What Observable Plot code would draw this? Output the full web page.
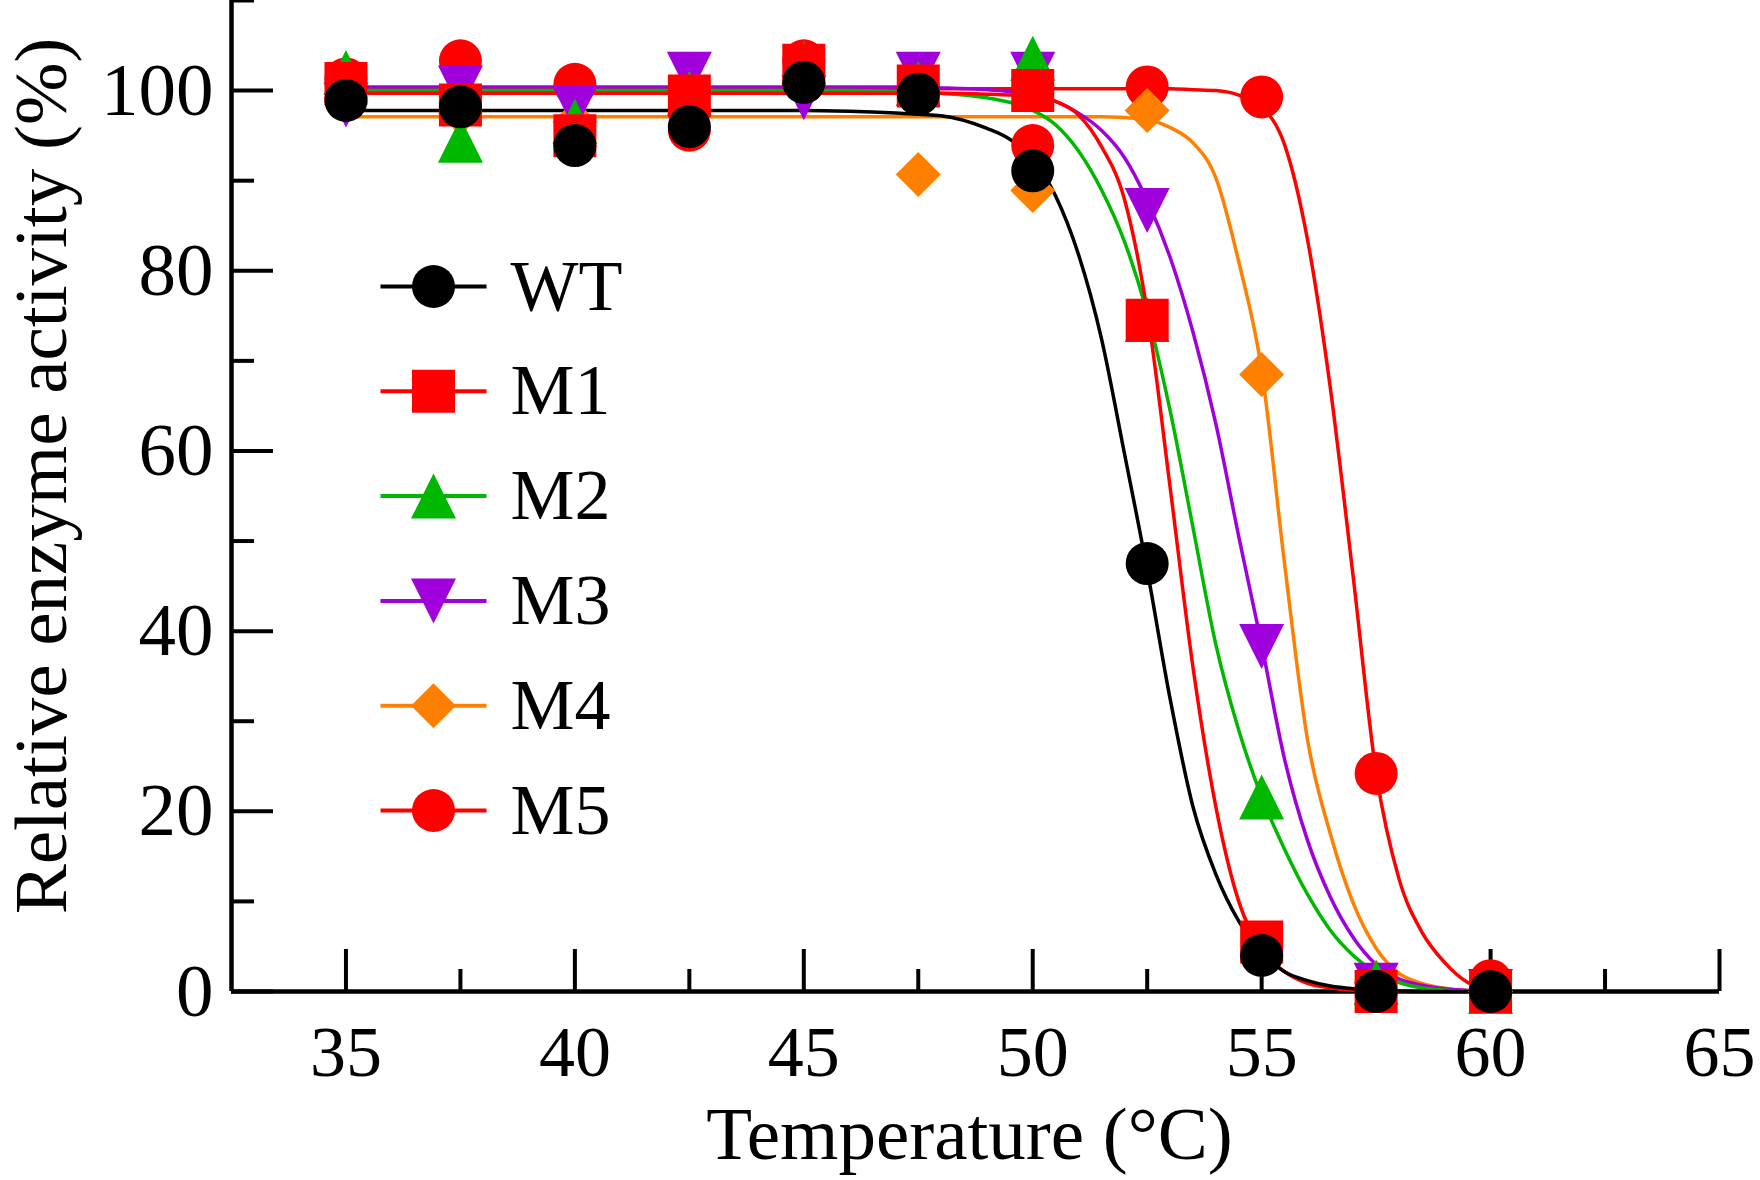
<!DOCTYPE html>
<html>
<head>
<meta charset="utf-8">
<script src="https://cdn.jsdelivr.net/npm/d3@7"></script>
<script src="https://cdn.jsdelivr.net/npm/@observablehq/plot@0.6"></script>
<style>
html, body { margin: 0; padding: 0; background: #ffffff; }
#chart { width: 1760px; height: 1180px; }
</style>
</head>
<body>
<div id="chart"></div>
<script>
// ---- Data ----
const temps = [35, 37.5, 40, 42.5, 45, 47.5, 50, 52.5, 55, 57.5, 60];

const wtValues = [98.9, 98.2, 93.9, 96.0, 100.9, 99.6, 91.1, 47.5, 4.0, 0, 0];
const m1Values = [100.8, 98.4, 95.0, 99.4, 102.8, 100.5, 100.0, 74.5, 5.5, 0, 0];
const m2Values = [102.0, 94.5, 96.6, 99.7, 103.0, 100.8, 103.6, 74.6, 21.6, 1.0, 0];
const m3Values = [98.4, 100.3, 98.0, 101.8, 99.2, 101.8, 101.8, 86.7, 38.3, 0.7, 0];
const m4Values = [99.2, 97.5, 96.5, 97.2, 100.8, 90.7, 88.9, 97.8, 68.5, 1.0, 0];
const m5Values = [101.3, 103.3, 100.7, 95.6, 103.3, 100.3, 93.9, 100.4, 99.3, 24.2, 1.2];

// fitted curves at these temperatures
const fitT = [35, 40, 45, 46, 47, 48, 49, 49.5, 50, 50.5, 51, 51.5, 52, 52.5, 53, 53.5, 54, 54.5, 55, 55.5, 56, 56.5, 57, 57.5, 58, 58.5, 59, 59.5, 60];
const wtFit = [97.8, 97.8, 97.8, 97.7, 97.5, 97.2, 95.8, 94.6, 92.4, 88.3, 81.8, 72.5, 59.8, 46.8, 32.5, 20.5, 13.0, 7.8, 4.3, 2.2, 1.2, 0.6, 0.3, 0.15, 0.05, 0, 0, 0, 0];
const m1Fit = [99.7, 99.7, 99.7, 99.7, 99.7, 99.7, 99.6, 99.5, 99.3, 98.8, 97.3, 93.8, 88.0, 75.5, 56.0, 36.0, 20.5, 10.0, 4.8, 2.2, 0.9, 0.4, 0.15, 0.05, 0, 0, 0, 0, 0];
const m2Fit = [100, 100, 100, 100, 99.9, 99.7, 99.2, 98.7, 97.8, 96.2, 93.3, 89.0, 83.3, 75.3, 64.5, 51.5, 38.5, 29.0, 21.6, 15.8, 10.8, 6.8, 4.0, 2.1, 1.0, 0.4, 0.15, 0.05, 0];
const m3Fit = [100.4, 100.4, 100.4, 100.4, 100.4, 100.3, 100.1, 99.9, 99.5, 98.8, 97.5, 95.6, 92.6, 87.8, 81.5, 73.2, 63.0, 50.5, 38.5, 25.8, 16.8, 10.5, 6.0, 3.0, 1.4, 0.7, 0.3, 0.1, 0];
const m4Fit = [97.1, 97.1, 97.1, 97.1, 97.1, 97.1, 97.1, 97.1, 97.1, 97.1, 97.1, 97.1, 97.0, 96.8, 95.9, 94.2, 90.3, 81.0, 69.0, 47.5, 28.0, 17.5, 9.8, 4.8, 2.0, 0.9, 0.35, 0.1, 0];
const m5Fit = [100.2, 100.2, 100.2, 100.2, 100.2, 100.2, 100.2, 100.2, 100.2, 100.2, 100.2, 100.2, 100.2, 100.2, 100.2, 100.1, 100.0, 99.5, 98.2, 94.0, 83.5, 67.0, 46.0, 24.3, 12.5, 6.6, 3.2, 1.0, 0.2];

const seriesNames = ["WT", "M1", "M2", "M3", "M4", "M5"];
const seriesColors = ["#000000", "#ff0000", "#00b800", "#a000dc", "#ff8000", "#ff0000"];

const xMajorTicks = [35, 40, 45, 50, 55, 60, 65];
const xMinorTicks = [37.5, 42.5, 47.5, 52.5, 57.5, 62.5];
const yMajorTicks = [0, 20, 40, 60, 80, 100];
const yMinorTicks = [10, 30, 50, 70, 90, 110];

const xTitle = "Temperature (°C)";
const yTitle = "Relative enzyme activity (%)";

// ---- Symbols ----
const symCircle = {draw(c) { c.moveTo(21.5, 0); c.arc(0, 0, 21.5, 0, 2 * Math.PI); c.closePath(); }};
const symSquare = {draw(c) { c.moveTo(-21.5, -21.5); c.lineTo(21.5, -21.5); c.lineTo(21.5, 21.5); c.lineTo(-21.5, 21.5); c.closePath(); }};
const symTriUp = {draw(c) { c.moveTo(0, -22.5); c.lineTo(22.5, 22.5); c.lineTo(-22.5, 22.5); c.closePath(); }};
const symTriDown = {draw(c) { c.moveTo(0, 22.5); c.lineTo(22.5, -22.5); c.lineTo(-22.5, -22.5); c.closePath(); }};
const symDiamond = {draw(c) { c.moveTo(0, -22.5); c.lineTo(22.5, 0); c.lineTo(0, 22.5); c.lineTo(-22.5, 0); c.closePath(); }};
const symHLine = {draw(c) { c.moveTo(-53, 0); c.lineTo(53, 0); }};
const seriesSymbols = [symCircle, symSquare, symTriUp, symTriDown, symDiamond, symCircle];

const allValues = [wtValues, m1Values, m2Values, m3Values, m4Values, m5Values];
const allFits = [wtFit, m1Fit, m2Fit, m3Fit, m4Fit, m5Fit];

const series = seriesNames.map((name, i) => ({
  name,
  color: seriesColors[i],
  symbol: seriesSymbols[i],
  pts: temps.map((t, j) => ({t, v: allValues[i][j]})),
  fit: fitT.map((t, j) => ({t, v: allFits[i][j]}))
}));

const drawOrder = [5, 4, 3, 2, 1, 0];
const marginLeft = 231;

const legendMarks = [];
series.forEach((s, i) => {
  const rowY = 286 + 104.8 * i;
  legendMarks.push(
    Plot.dot([s.name], {frameAnchor: "top-left", dx: 433 - marginLeft, dy: rowY, symbol: symHLine, stroke: s.color, strokeWidth: 4, fill: "none"}),
    Plot.dot([s.name], {frameAnchor: "top-left", dx: 433 - marginLeft, dy: rowY, symbol: s.symbol, fill: s.color, stroke: "none"}),
    Plot.text([s.name], {frameAnchor: "top-left", dx: 510 - marginLeft, dy: rowY, text: d => d, textAnchor: "start", lineAnchor: "middle", fontSize: 72, fill: "black"})
  );
});

const chart = Plot.plot({
  width: 1760,
  height: 1180,
  marginLeft: marginLeft,
  marginRight: 41,
  marginTop: 0,
  marginBottom: 189,
  style: {fontFamily: "'Liberation Serif', 'Times New Roman', serif", background: "white", color: "black"},
  x: {domain: [32.5, 65], axis: null},
  y: {domain: [0, 110], axis: null},
  marks: [
    Plot.ruleY([0], {stroke: "black", strokeWidth: 4.5}),
    Plot.ruleX([32.5], {stroke: "black", strokeWidth: 4.5}),
    Plot.ruleX(xMajorTicks, {x: d => d, y1: 0, y2: 0, insetTop: -42, stroke: "black", strokeWidth: 4}),
    Plot.ruleX(xMinorTicks, {x: d => d, y1: 0, y2: 0, insetTop: -22, stroke: "black", strokeWidth: 4}),
    Plot.ruleY(yMajorTicks, {y: d => d, x1: 32.5, x2: 32.5, insetRight: -42, stroke: "black", strokeWidth: 4}),
    Plot.ruleY(yMinorTicks, {y: d => d, x1: 32.5, x2: 32.5, insetRight: -23, stroke: "black", strokeWidth: 4}),
    Plot.axisX(xMajorTicks, {tickSize: 0, tickPadding: 33, fontSize: 72, label: null, tickFormat: d => String(d)}),
    Plot.axisY(yMajorTicks, {tickSize: 0, tickPadding: 18, fontSize: 75, label: null, tickFormat: d => String(d)}),
    ...drawOrder.map(i => Plot.line(series[i].fit, {x: "t", y: "v", stroke: series[i].color, strokeWidth: 3.5, curve: "monotone-x"})),
    ...drawOrder.map(i => Plot.dot(series[i].pts, {x: "t", y: "v", symbol: series[i].symbol, fill: series[i].color, stroke: "none"})),
    ...legendMarks,
    Plot.text([xTitle], {frameAnchor: "bottom", text: d => d, textAnchor: "middle", dx: -6, dy: 143, fontSize: 75, lineAnchor: "middle", fill: "black"}),
    Plot.text([yTitle], {frameAnchor: "left", text: d => d, textAnchor: "middle", rotate: -90, dx: -190, dy: -20, fontSize: 75, lineAnchor: "middle", fill: "black"})
  ]
});

document.getElementById("chart").appendChild(chart);
</script>
</body>
</html>
